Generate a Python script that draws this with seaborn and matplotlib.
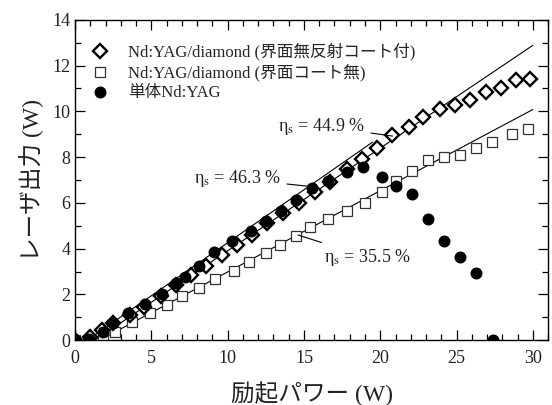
import matplotlib
matplotlib.use("Agg")
import matplotlib.pyplot as plt
import numpy as np
import pandas as pd
import seaborn as sns

# pump power (W) vs laser output (W)
ar_x = [0, 1.0, 1.75, 2.5, 3.6, 4.5, 5.6, 6.6, 7.6, 8.6, 9.6, 10.6, 11.6, 12.6, 13.6,
        14.7, 15.7, 16.7, 17.8, 18.8, 19.8, 20.8, 21.9, 22.8, 23.9, 24.9, 25.9, 26.9,
        27.9, 28.9, 29.8]
ar_y = [0, 0.12, 0.44, 0.73, 1.09, 1.46, 1.95, 2.40, 2.84, 3.26, 3.72, 4.16, 4.59, 5.1,
        5.55, 5.98, 6.49, 6.93, 7.47, 7.9, 8.39, 8.97, 9.31, 9.74, 10.11, 10.28, 10.5,
        10.86, 11.01, 11.35, 11.42]

nc_x = [0, 1.0, 1.8, 2.6, 3.7, 4.9, 6.0, 7.0, 8.1, 9.2, 10.4, 11.4, 12.5, 13.4, 14.5,
        15.4, 16.6, 17.8, 19.0, 20.1, 21.0, 22.1, 23.1, 24.2, 25.2, 26.3, 27.3, 28.6, 29.7]
nc_y = [0, 0.02, 0.2, 0.38, 0.78, 1.17, 1.54, 1.94, 2.29, 2.67, 3.03, 3.42, 3.8, 4.17,
        4.55, 4.93, 5.29, 5.64, 6.0, 6.46, 6.97, 7.41, 7.87, 7.99, 8.09, 8.41, 8.67, 9.01, 9.22]

yag_x = [0, 0.9, 1.8, 2.5, 3.5, 4.6, 5.7, 6.6, 7.2, 8.1, 9.1, 10.3, 11.5, 12.5, 13.5,
         14.5, 15.5, 16.6, 17.8, 18.9, 20.1, 21.0, 22.1, 23.1, 24.2, 25.2, 26.3, 27.4]
yag_y = [0, 0.07, 0.36, 0.73, 1.17, 1.6, 2.04, 2.5, 2.77, 3.24, 3.86, 4.34, 4.78, 5.22,
         5.64, 6.12, 6.64, 6.97, 7.33, 7.58, 7.14, 6.75, 6.39, 5.3, 4.34, 3.64, 2.92, 0.03]

# slope efficiency fits: (eta, threshold, x end)
fit_eta = [0.449, 0.463, 0.355]
fit_th = [1.3, 0.8, 1.6]
fit_end = [30.0, 19.5, 30.0]

labels = ["Nd:YAG/diamond (界面無反射コート付)", "Nd:YAG/diamond (界面コート無)", "単体Nd:YAG"]

sns.set_style("ticks")
plt.rcParams['font.family'] = ['Liberation Serif', 'Noto Sans CJK JP']
plt.rcParams['mathtext.fontset'] = 'stix'

fig = plt.figure(figsize=(5.52, 4.05), dpi=100)
ax = fig.add_axes([0.136, 0.160, 0.857, 0.791])

for eta, th, xe in zip(fit_eta, fit_th, fit_end):
  xx = np.array([th, xe])
  ax.plot(xx, eta * (xx - th), color="black", lw=0.8, zorder=1)

ax.plot(ar_x, ar_y, 'D', ms=7.4, mfc="white", mec="black", mew=1.7, ls="none",
        label=labels[0], zorder=3)
ax.plot(nc_x, nc_y, 's', ms=7.2, mfc="white", mec="#333333", mew=0.9, ls="none",
        label=labels[1], zorder=2)
ax.plot(yag_x, yag_y, 'o', ms=7.6, mfc="black", mec="black", ls="none",
        label=labels[2], zorder=4)

ax.set_xlim(0, 31)
ax.set_ylim(0, 14)
ax.set_xticks(range(0, 31, 5))
ax.set_yticks(range(0, 15, 2))
ax.set_xticks(range(0, 32), minor=True)
ax.set_yticks(range(0, 15), minor=True)
ax.tick_params(which="both", direction="in", top=True, right=True, labelsize=13,
               width=0.9, color="black", labelcolor="#222222")
ax.tick_params(which="major", length=7)
ax.tick_params(which="minor", length=4)
ax.tick_params(axis="x", pad=7)
for s in ax.spines.values():
  s.set_linewidth(1.0)
  s.set_color("black")

ax.set_xlabel("励起パワー (W)", fontsize=17, color="#222222", labelpad=10)
ax.set_ylabel("レーザ出力 (W)", fontsize=17, color="#222222", labelpad=6)

ax.legend(loc="upper left", frameon=False, fontsize=12, handletextpad=1.1,
          borderaxespad=0.5, labelspacing=0.22, handlelength=1.2,
          bbox_to_anchor=(0.0, 0.975))

ann = [("η$_{\\rm s}$ = 44.9 %", (20.8, 8.92), (13.3, 9.36)),
       ("η$_{\\rm s}$ = 46.3 %", (15.4, 6.72), (7.8, 7.05)),
       ("η$_{\\rm s}$ = 35.5 %", (14.6, 4.6), (16.3, 3.63))]
for txt, xy, xyt in ann:
  ax.annotate(txt, xy=xy, xytext=xyt, fontsize=13, color="#222222", ha="left", va="center",
              arrowprops=dict(arrowstyle="-", lw=0.8, color="black", shrinkA=2, shrinkB=0))

fig.savefig("out.png", dpi=100)
